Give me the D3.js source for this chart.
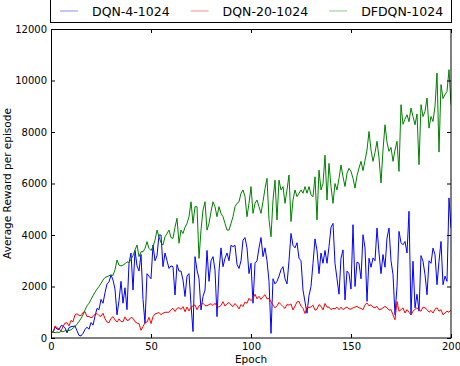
<!DOCTYPE html>
<html>
<head>
<meta charset="utf-8">
<script src="https://cdnjs.cloudflare.com/ajax/libs/d3/7.8.5/d3.min.js"></script>
<style>
  body { margin: 0; background: #fff; }
  svg text { font-family: "DejaVu Sans", sans-serif; fill: #000; }
</style>
</head>
<body>
<div id="chart"></div>
<script>
// epochs 0..200, one value per epoch
var epochs = d3.range(0, 201);

var seriesNames = ["DQN-4-1024", "DQN-20-1024", "DFDQN-1024"];
var seriesColors = ["#0000ff", "#ff0000", "#008000"];

var xTicks = [0, 50, 100, 150, 200];
var yTicks = [0, 2000, 4000, 6000, 8000, 10000, 12000];

var dqn4 = [
  300, 210, 420, 350, 330, 480, 470, 400, 200, 400,
  440, 450, 470, 280, 100, 80, 180, 330, 420, 340,
  600, 500, 850, 1150, 1100, 1500, 1350, 1760, 2100, 2180,
  2450, 2250, 1900, 900, 1450, 2200, 1350, 1950, 1100, 2900,
  3300, 1860, 3400, 2800, 2600, 3250, 1500, 570, 2500, 2400,
  2300, 3610, 3000, 3200, 4000, 4000, 2770, 3300, 3000, 2700,
  2800, 2770, 1670, 2850, 2600, 2600, 2250, 1610, 2400, 2500,
  1300, 250, 3160, 2640, 2300, 1090, 1610, 1860, 3400, 2200,
  3000, 3160, 2640, 830, 2600, 3500, 2770, 3100, 3300, 3000,
  3600, 3550, 3600, 2850, 2700, 3000, 3800, 3900, 3500, 2500,
  2900, 1350, 2900, 3000, 3500, 3900, 3160, 3500, 3000, 2200,
  180, 2300, 2100, 2200, 2400, 2650, 2770, 2300, 2100, 3000,
  4060, 3600, 3500, 3700, 3100, 3000, 1860, 1400, 960, 1650,
  2000, 2900, 3850, 3400, 2500, 3300, 2900, 3400, 2900, 3550,
  4300, 4450, 2900, 2300, 1700, 3100, 3420, 1480, 2600, 2500,
  1900, 4400, 2000, 2950, 2900, 2300, 4010, 3500, 1420, 3100,
  2750, 3110, 3000, 4270, 3300, 2500, 3240, 2750, 3880, 4270,
  3000, 2460, 900, 2000, 4140, 3700, 3620, 3750, 3300, 4920,
  900, 2980, 1170, 1700, 1040, 3200, 2980, 2460, 1680, 3000,
  2900, 3490, 3240, 2070, 2980, 3750, 2070, 2400, 2200, 5440,
  4270
];

var dqn20 = [
  240, 210, 470, 400, 360, 270, 440, 580, 590, 470,
  680, 630, 900, 940, 880, 870, 990, 1020, 830, 840,
  780, 830, 930, 950, 870, 840, 960, 750, 620, 600,
  760, 830, 700, 620, 740, 640, 630, 820, 680, 700,
  800, 760, 630, 580, 560, 300, 440, 600, 620, 800,
  560, 830, 930, 960, 990, 900, 960, 1000, 1000, 1000,
  1100, 1150, 1030, 1150, 1180, 1110, 1220, 1020, 1200, 1050,
  1200, 1250, 1280, 1100, 1250, 1300, 1350, 1260, 1250, 1300,
  1330, 1260, 1350, 1230, 1200, 1270, 1410, 1240, 1330, 1380,
  1280, 1220, 1340, 1250, 1130, 1300, 1220, 1400, 1350, 1540,
  1450, 1540, 1700, 1520, 1620, 1500, 1610, 1680, 1520, 1540,
  1400, 1280, 1170, 1250, 1380, 1300, 1220, 1150, 1300, 1280,
  1320, 1090, 1240, 1400, 1420, 1240, 1150, 950, 1200, 1180,
  1210, 1270, 1080, 1120, 1300, 1230, 1090, 1340, 1200, 1200,
  1100, 1150, 1130, 1200, 1100, 1200, 1100, 1160, 1200, 1130,
  1120, 1170, 1200, 1230, 1170, 1150, 1100, 1290, 1360, 1250,
  1290, 1200, 1170, 1230, 1100, 1120, 1170, 1230, 1170, 1080,
  1100, 900, 710, 1420, 1040, 1100, 1170, 970, 1100, 1000,
  900, 1040, 1120, 1170, 1100, 1040, 1200, 1170, 1100, 1000,
  1070, 970, 1120, 1170, 1040, 1100, 900, 970, 1040, 1000,
  1100
];

var dfdqn = [
  220, 250, 200, 230, 210, 260, 240, 280, 300, 290,
  320, 380, 450, 540, 640, 760, 900, 1090, 1250, 1350,
  1500, 1640, 1780, 1900, 2000, 2120, 2250, 2350, 2380, 2420,
  2450, 2430, 2650, 3030, 2830, 2800, 2830, 2880, 2960, 2930,
  3050, 3200, 3420, 3610, 3160, 3350, 3350, 3480, 3740, 3480,
  3400, 3550, 3800, 4190, 3930, 3700, 3610, 3930, 4060, 4190,
  3900, 3870, 4300, 4650, 3680, 4190, 4060, 4300, 4450, 4710,
  5290, 4450, 5100, 5100, 3090, 4190, 4970, 5290, 4190, 4450,
  4900, 5290, 5100, 4710, 5100, 4840, 4710, 4450, 4190, 4190,
  4450, 4710, 5100, 5230, 5290, 5620, 5750, 5490, 4710, 5230,
  5880, 4840, 5230, 5360, 5100, 4840, 5300, 5800, 6200, 4600,
  3930, 5360, 6130, 4580, 6130, 5750, 5880, 5230, 5750, 6330,
  4520, 5360, 5750, 5490, 5620, 5750, 5620, 5880, 5620, 5880,
  5560, 5490, 6260, 4580, 6520, 5750, 6000, 7100, 5360, 6780,
  5880, 5230, 6000, 5750, 6200, 6720, 6260, 5880, 6400, 6590,
  6470, 6200, 5820, 6300, 6600, 6860, 6500, 6900, 7300, 8020,
  7300, 6860, 7200, 7640, 7000, 6020, 7300, 8280, 7600, 7250,
  7400, 6860, 7300, 7640, 6470, 9060, 8300, 8500, 8670, 8400,
  8930, 8600, 8280, 8700, 6730, 9060, 8600, 8800, 9320, 8150,
  8600, 8410, 9000, 10290, 7220, 9840, 9300, 9450, 9580, 10420,
  9060
];

var seriesValues = [dqn4, dqn20, dfdqn];

// set the dimensions and margins of the graph
var margin = { top: 29, right: 9, bottom: 28, left: 51 },
  width = 460 - margin.left - margin.right,
  height = 366 - margin.top - margin.bottom;

var x = d3.scaleLinear().domain([0, 200]).range([0, width]);
var y = d3.scaleLinear().domain([0, 12000]).range([height, 0]);

var svg = d3.select("#chart").append("svg")
  .attr("width", 460)
  .attr("height", 366);

var g = svg.append("g")
  .attr("transform", "translate(" + margin.left + "," + margin.top + ")");

g.append("clipPath").attr("id", "plotclip")
  .append("rect")
  .attr("width", width)
  .attr("height", height);

// series lines
var line = d3.line()
  .x(function(d, i) { return x(epochs[i]); })
  .y(function(d) { return y(d); });

g.append("g")
  .attr("clip-path", "url(#plotclip)")
  .selectAll("path")
  .data(seriesValues)
  .enter().append("path")
  .attr("d", line)
  .attr("fill", "none")
  .attr("stroke", function(d, i) { return seriesColors[i]; })
  .attr("stroke-width", 1)
  .attr("stroke-linejoin", "round");

// axes, ticks pointing inward on all four sides
function styleAxis(sel) {
  sel.select(".domain").remove();
  sel.selectAll(".tick line").attr("stroke", "#000");
  sel.selectAll(".tick text")
    .style("font-family", "DejaVu Sans")
    .style("font-size", "10px")
    .attr("fill", "#000");
}

g.append("g")
  .attr("transform", "translate(0," + height + ")")
  .call(d3.axisBottom(x).tickValues(xTicks).tickSize(-4).tickPadding(5).tickFormat(d3.format("d")))
  .call(styleAxis);

g.append("g")
  .call(d3.axisTop(x).tickValues(xTicks).tickSize(-4).tickFormat(""))
  .call(styleAxis);

g.append("g")
  .call(d3.axisLeft(y).tickValues(yTicks).tickSize(-4).tickPadding(4).tickFormat(d3.format("d")))
  .call(styleAxis);

g.append("g")
  .attr("transform", "translate(" + width + ",0)")
  .call(d3.axisRight(y).tickValues(yTicks).tickSize(-4).tickFormat(""))
  .call(styleAxis);

// frame
g.append("rect")
  .attr("x", 0.5)
  .attr("y", 0.5)
  .attr("width", width - 0.5)
  .attr("height", height - 0.5)
  .attr("fill", "none")
  .attr("stroke", "#000")
  .attr("stroke-width", 1);

// axis labels
svg.append("text")
  .attr("x", margin.left + width / 2)
  .attr("y", 363)
  .attr("text-anchor", "middle")
  .style("font-size", "10.5px")
  .text("Epoch");

svg.append("text")
  .attr("transform", "translate(11," + (margin.top + height / 2) + ") rotate(-90)")
  .attr("text-anchor", "middle")
  .style("font-size", "10.5px")
  .text("Average Reward per episode");

// legend above the plot
var legend = svg.append("g");

legend.append("rect")
  .attr("x", 50.5)
  .attr("y", -3)
  .attr("width", 401)
  .attr("height", 25.5)
  .attr("fill", "#fff")
  .attr("stroke", "#000")
  .attr("stroke-width", 1);

var lx = 60;
seriesNames.forEach(function(name, i) {
  legend.append("line")
    .attr("x1", lx)
    .attr("x2", lx + 18)
    .attr("y1", 11)
    .attr("y2", 11)
    .attr("stroke", seriesColors[i])
    .attr("stroke-opacity", 0.3)
    .attr("stroke-width", 1.5);
  var t = legend.append("text")
    .attr("x", lx + 32)
    .attr("y", 16)
    .style("font-size", "12.5px")
    .text(name);
  lx = lx + 32 + t.node().getComputedTextLength() + 21;
});
</script>
</body>
</html>
